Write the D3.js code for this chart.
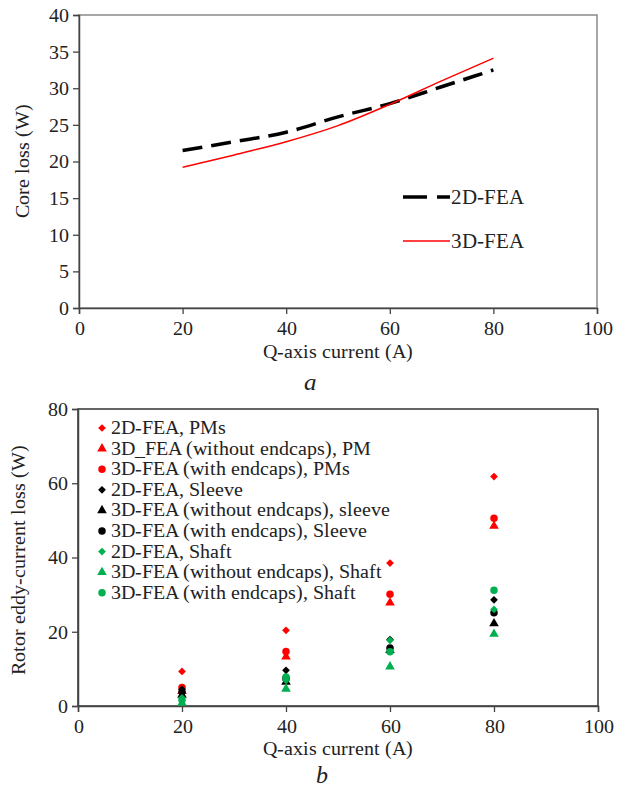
<!DOCTYPE html>
<html>
<head>
<meta charset="utf-8">
<script src="https://cdn.jsdelivr.net/npm/d3@7"></script>
<style>
  @font-face { font-family: 'ChartSerif'; src: local('Liberation Serif'), local('LiberationSerif'), local('Liberation Serif Regular'), local('LiberationSerif-Regular'); font-style: normal; }
  @font-face { font-family: 'ChartSerif'; src: local('Liberation Serif Italic'), local('LiberationSerif-Italic'); font-style: italic; }
  body { margin: 0; background: #fff; }
</style>
</head>
<body>
<div id="app"></div>
<script>
// chart a: core loss
const coreCurrent = [20, 30, 40, 50, 60, 70, 80]
const core2D = [21.5, 22.7, 24.0, 26.1, 27.9, 30.2, 32.5]
const core3D = [19.2, 20.9, 22.7, 24.9, 27.8, 31.0, 34.1]
const coreYTicks = [0, 5, 10, 15, 20, 25, 30, 35, 40]
const xTicks = [0, 20, 40, 60, 80, 100]

// chart b: rotor eddy-current loss
const rotorCurrent = [20, 40, 60, 80]
const rotorSeries = [
    "2D-FEA, PMs",
    "3D_FEA (without endcaps), PM",
    "3D-FEA (with endcaps), PMs",
    "2D-FEA, Sleeve",
    "3D-FEA (without endcaps), sleeve",
    "3D-FEA (with endcaps), Sleeve",
    "2D-FEA, Shaft",
    "3D-FEA (without endcaps), Shaft",
    "3D-FEA (with endcaps), Shaft"
]
const pm2D = [9.3, 20.4, 38.5, 61.8]
const pm3DNoCap = [4.0, 13.3, 27.8, 48.5]
const pm3DCap = [5.0, 14.7, 30.1, 50.6]
const sleeve2D = [4.5, 9.6, 17.9, 28.6]
const sleeve3DNoCap = [3.0, 6.5, 15.0, 22.2]
const sleeve3DCap = [3.8, 7.4, 15.6, 25.1]
const shaft2D = [2.2, 6.9, 17.7, 26.0]
const shaft3DNoCap = [0.8, 4.6, 10.6, 19.4]
const shaft3DCap = [1.6, 7.8, 14.6, 31.2]
const rotorValues = [pm2D, pm3DNoCap, pm3DCap, sleeve2D, sleeve3DNoCap, sleeve3DCap, shaft2D, shaft3DNoCap, shaft3DCap]
const rotorYTicks = [0, 20, 40, 60, 80]

const red = "#ff0000", green = "#00b050", black = "#000000"
const seriesColor = [red, red, red, black, black, black, green, green, green]
const seriesShape = ["diamond", "triangle", "circle", "diamond", "triangle", "circle", "diamond", "triangle", "circle"]

const fontName = 'ChartSerif, "Liberation Serif", "Times New Roman"'

const svg = d3.select('#app')
    .append('svg')
    .attr('width', 625)
    .attr('height', 789)
    .style('font-family', fontName)

function drawAxes(g, xScale, yScale, yTicks, frameColor) {
    const [x0, x1] = xScale.range()
    const [y0, y1] = yScale.range()
    // plot frame
    g.append('rect')
        .attr('x', x0).attr('y', y1)
        .attr('width', x1 - x0).attr('height', y0 - y1)
        .attr('fill', 'none')
        .attr('stroke', frameColor)
        .attr('stroke-width', 1.5)

    const xAxis = g.append('g')
        .attr('transform', `translate(0,${y0})`)
        .call(d3.axisBottom(xScale).tickValues(xTicks).tickSize(6).tickPadding(7))
    const yAxis = g.append('g')
        .attr('transform', `translate(${x0},0)`)
        .call(d3.axisLeft(yScale).tickValues(yTicks).tickSize(6).tickPadding(4))
    for (const ax of [xAxis, yAxis]) {
        ax.attr('font-family', null).attr('font-size', 20)
        ax.select('.domain').attr('stroke', '#444').attr('stroke-width', 1.5)
        ax.selectAll('.tick line').attr('stroke', '#444').attr('stroke-width', 1.3)
        ax.selectAll('.tick text')
            .style('font-family', fontName)
            .attr('font-size', 20)
            .attr('fill', '#222')
    }
}

function label(g, x, y, str, size) {
    return g.append('text')
        .attr('x', x).attr('y', y)
        .style('font-family', fontName)
        .attr('font-size', size)
        .attr('fill', '#222')
        .text(str)
}

// ---------- chart a ----------
const ga = svg.append('g')
const xA = d3.scaleLinear().domain([0, 100]).range([79, 597])
const yA = d3.scaleLinear().domain([0, 40]).range([308, 15])
drawAxes(ga, xA, yA, coreYTicks, '#8a8a8a')

const lineA = d3.line()
    .x((d, i) => xA(coreCurrent[i]))
    .y(d => yA(d))
    .curve(d3.curveMonotoneX)

ga.append('path')
    .attr('d', lineA(core2D))
    .attr('fill', 'none')
    .attr('stroke', black)
    .attr('stroke-width', 3.5)
    .attr('stroke-dasharray', '20,9')

ga.append('path')
    .attr('d', lineA(core3D))
    .attr('fill', 'none')
    .attr('stroke', red)
    .attr('stroke-width', 1.5)

// legend a
const legA = [
    { name: "2D-FEA", color: black, width: 3.5, dash: '24,10', y: 197 },
    { name: "3D-FEA", color: red, width: 1.5, dash: null, y: 241 }
]
legA.forEach(l => {
    ga.append('line')
        .attr('x1', 403).attr('x2', 450)
        .attr('y1', l.y).attr('y2', l.y)
        .attr('stroke', l.color)
        .attr('stroke-width', l.width)
        .attr('stroke-dasharray', l.dash)
    label(ga, 451, l.y + 7, l.name, 21)
})

label(ga, 338, 358, "Q-axis current (A)", 20).attr('text-anchor', 'middle')

label(ga, 0, 0, "Core loss (W)", 20)
    .attr('transform', 'translate(29,161) rotate(-90)')
    .attr('text-anchor', 'middle')

label(ga, 310, 390, "a", 25)
    .attr('text-anchor', 'middle')
    .attr('font-style', 'italic')

// ---------- chart b ----------
const gb = svg.append('g')
const xB = d3.scaleLinear().domain([0, 100]).range([78, 598])
const yB = d3.scaleLinear().domain([0, 80]).range([706, 409])
drawAxes(gb, xB, yB, rotorYTicks, '#333')

const symbolOf = {
    diamond: d3.symbol().type(d3.symbolSquare).size(30),
    triangle: d3.symbol().type(d3.symbolTriangle).size(40),
    circle: d3.symbol().type(d3.symbolCircle).size(44)
}
const rotOf = { diamond: 45, triangle: 0, circle: 0 }

rotorValues.forEach((vals, s) => {
    const shape = seriesShape[s]
    gb.append('g')
        .selectAll('path')
        .data(vals)
        .enter()
        .append('path')
        .attr('d', symbolOf[shape]())
        .attr('transform', (d, i) => `translate(${xB(rotorCurrent[i])},${yB(d)}) rotate(${rotOf[shape]})`)
        .attr('fill', seriesColor[s])
})

// legend b
rotorSeries.forEach((name, s) => {
    const y = 428 + s * 20.6
    const shape = seriesShape[s]
    gb.append('path')
        .attr('d', symbolOf[shape]())
        .attr('transform', `translate(102,${y}) rotate(${rotOf[shape]})`)
        .attr('fill', seriesColor[s])
    label(gb, 111, y + 6, name, 19.5)
})

label(gb, 338, 755, "Q-axis current (A)", 20).attr('text-anchor', 'middle')

label(gb, 0, 0, "Rotor eddy-current loss (W)", 20)
    .attr('transform', 'translate(25,560) rotate(-90)')
    .attr('text-anchor', 'middle')

label(gb, 322, 783, "b", 24)
    .attr('text-anchor', 'middle')
    .attr('font-style', 'italic')
</script>
</body>
</html>
